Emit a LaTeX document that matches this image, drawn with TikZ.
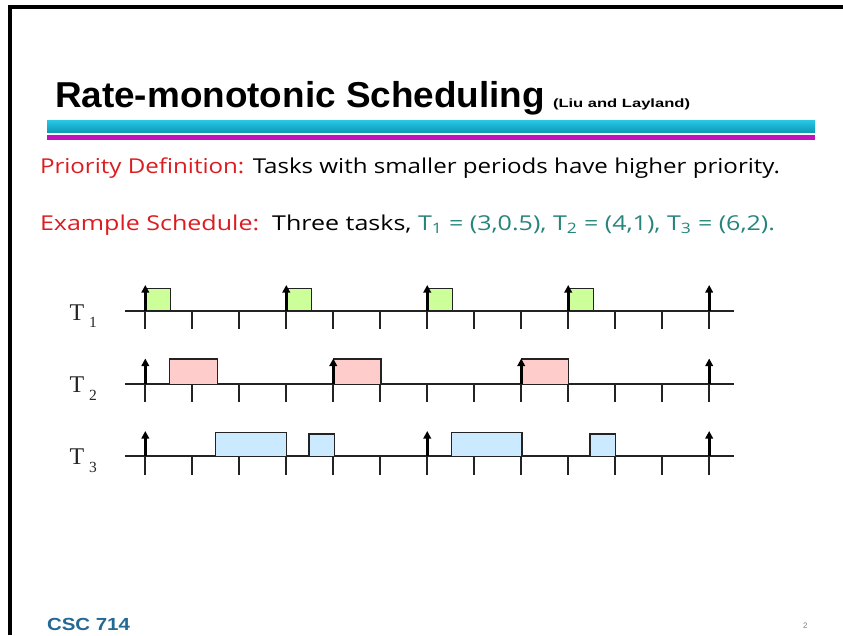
\documentclass[tikz,border=0pt]{standalone}
\usepackage{fontspec}
\usepackage{graphicx}
\setmainfont{Liberation Serif}
\newfontfamily\arialf{Liberation Sans}
\newfontfamily\comicf{Open Sans}
\usetikzlibrary{arrows.meta}
\definecolor{titlecyan}{RGB}{16,182,216}
\definecolor{titlecyanlight}{RGB}{40,200,230}
\definecolor{titlemag}{RGB}{192,16,192}
\definecolor{defred}{RGB}{220,28,32}
\definecolor{tealtext}{RGB}{38,132,124}
\definecolor{footblue}{RGB}{35,105,150}
\definecolor{boxgreen}{RGB}{204,255,153}
\definecolor{boxpink}{RGB}{255,204,204}
\definecolor{boxblue}{RGB}{204,234,255}
\definecolor{axisgray}{RGB}{35,35,35}
\begin{document}
\begin{tikzpicture}[x=1pt,y=-1pt,
  axisline/.style={line width=1.8pt, draw=axisgray},
  tickline/.style={line width=1.8pt, draw=axisgray},
  release/.style={line width=2.8pt, black, -{Triangle[length=7.5pt,width=7.5pt]}},
  jobbox/.style={draw=axisgray, line width=1.4pt},
  txt/.style={anchor=base west, inner sep=0pt, outer sep=0pt},
  tlabel/.style={anchor=base west, inner sep=0pt, font=\fontsize{24}{26}\selectfont, text=black!85}]
\useasboundingbox (0,0) rectangle (843,635);
\fill[white] (0,0) rectangle (843,635);
% frame
\draw[line width=4pt] (9.5,635) -- (9.5,7) -- (843,7);
% title
\node[txt] (title) at (55,107) {\resizebox{490pt}{\height}{\arialf\bfseries\fontsize{36}{40}\selectfont Rate-monotonic Scheduling}};
\node[txt] (cite) at (553,107) {\resizebox{137pt}{\height}{\arialf\bfseries\fontsize{12}{14}\selectfont (Liu and Layland)}};
\shade[top color=titlecyanlight, bottom color=titlecyan!85!black] (47,120) rectangle (815,132);
\fill[titlemag] (47,135.3) rectangle (815,139.5);
% text lines
\node[txt] (prio) at (40,173) {\resizebox{740pt}{\height}{\comicf\fontsize{20.5}{24}\selectfont\textcolor{defred}{Priority Definition:} Tasks with smaller periods have higher priority.}};
\node[txt] (example) at (40,230) {\resizebox{735pt}{\height}{\comicf\fontsize{20.5}{24}\selectfont\textcolor{defred}{Example Schedule:}\ \ Three tasks, \textcolor{tealtext}{T\textsubscript{1} = (3,0.5), T\textsubscript{2} = (4,1), T\textsubscript{3} = (6,2).}}};
% task labels
\node[tlabel] (l1) at (69.5,320) {T\hspace{4.8pt}\raisebox{-7.5pt}{\fontsize{15.5}{16}\selectfont 1}};
\node[tlabel] (l2) at (69.5,392.5) {T\hspace{4.8pt}\raisebox{-7.5pt}{\fontsize{15.5}{16}\selectfont 2}};
\node[tlabel] (l3) at (69.5,464.5) {T\hspace{4.8pt}\raisebox{-7.5pt}{\fontsize{15.5}{16}\selectfont 3}};
% timelines
\begin{scope}[shift={(145.3,0)}, x=46.99pt]
  % T1
  \draw[axisline] (-0.43,311) -- (12.53,311);
  \foreach \i in {0,...,12} \draw[tickline] (\i,311) -- (\i,328.5);
  \foreach \s in {0,3,6,9} \filldraw[jobbox, fill=boxgreen] (\s,288.7) rectangle (\s+0.54,311);
  \foreach \s in {0,3,6,9,12} \draw[release] (\s,311) -- (\s,285);
  % T2
  \draw[axisline] (-0.43,384.3) -- (12.53,384.3);
  \foreach \i in {0,...,12} \draw[tickline] (\i,384.3) -- (\i,401.7);
  \filldraw[jobbox, fill=boxpink] (0.51,359) rectangle (1.54,384.3);
  \filldraw[jobbox, fill=boxpink] (4,359) rectangle (5.02,384.3);
  \filldraw[jobbox, fill=boxpink] (8,359) rectangle (9.01,384.3);
  \foreach \s in {0,4,8,12} \draw[release] (\s,384.3) -- (\s,358.5);
  % T3
  \draw[axisline] (-0.43,456.3) -- (12.53,456.3);
  \foreach \i in {0,...,12} \draw[tickline] (\i,456.3) -- (\i,475);
  \filldraw[jobbox, fill=boxblue] (1.5,432.7) rectangle (3.01,456.3);
  \filldraw[jobbox, fill=boxblue] (3.48,434) rectangle (4.03,456.3);
  \filldraw[jobbox, fill=boxblue] (6.52,432.7) rectangle (8.02,456.3);
  \filldraw[jobbox, fill=boxblue] (9.46,434) rectangle (10.0,456.3);
  \foreach \s in {0,6,12} \draw[release] (\s,456.3) -- (\s,431);
\end{scope}
% footer
\node[txt] (footer) at (47,630.5) {\resizebox{83pt}{\height}{\arialf\bfseries\fontsize{17.5}{20}\selectfont\textcolor{footblue}{CSC 714}}};
\node[txt] (pagenum) at (803,628) {\arialf\fontsize{8}{9}\selectfont\textcolor{gray}{2}};
\end{tikzpicture}
\end{document}
